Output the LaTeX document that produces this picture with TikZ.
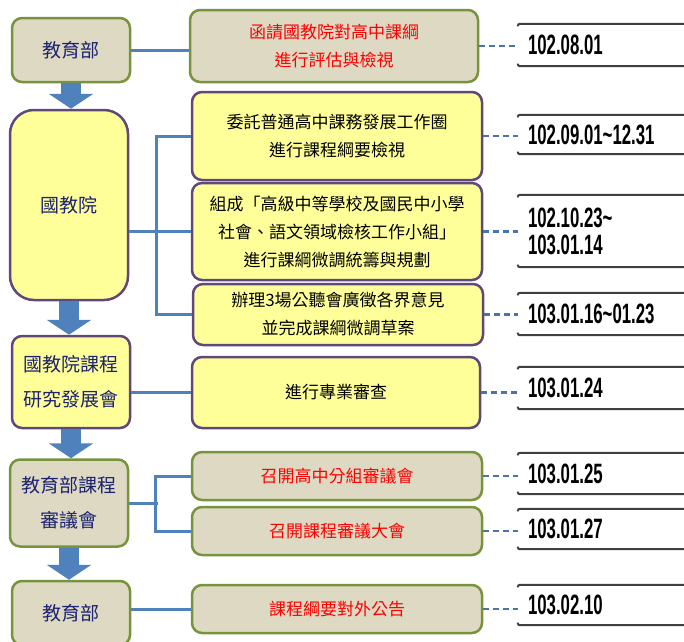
\documentclass[tikz,border=0pt]{standalone}
\usepackage{fontspec}
\newfontfamily\cjk{Noto Sans CJK TC}
\newfontfamily\datefont{Liberation Sans}[FakeStretch=0.6]
\usetikzlibrary{arrows.meta}

\definecolor{bgtan}{HTML}{DDD9C3}
\definecolor{bgyellow}{HTML}{FFFF99}
\definecolor{edgegreen}{HTML}{77933C}
\definecolor{edgepurple}{HTML}{5F497A}
\definecolor{linkblue}{HTML}{4F81BD}
\definecolor{textnavy}{HTML}{1C2270}
\definecolor{dategray}{HTML}{404040}

\tikzset{
    moebox/.style={draw=edgegreen, fill=bgtan, line width=2.5pt, rounded corners=10pt,
        text=textnavy, align=center, inner sep=0pt, font=\cjk\fontsize{19}{35}\selectfont},
    naerbox/.style={moebox, draw=edgepurple, fill=bgyellow},
    moetask/.style={draw=edgegreen, fill=bgtan, line width=2.5pt, rounded corners=10pt,
        text=red, align=center, inner sep=0pt, font=\cjk\fontsize{17}{28}\selectfont},
    naertask/.style={moetask, draw=edgepurple, fill=bgyellow, text=black},
    datebox/.style={minimum width=166pt, text width=146pt, inner xsep=10pt, inner ysep=0pt,
        align=left, font=\datefont\bfseries\fontsize{28}{27}\selectfont},
    dateline/.style={draw=dategray, line width=2pt, rounded corners=2pt},
    link/.style={draw=linkblue, line width=3pt},
    datelink/.style={draw=linkblue!90!black, line width=2.5pt, dash pattern=on 6pt off 4pt},
    blockarrow/.style={draw=linkblue, line width=20pt, -{Triangle[width=44pt,length=15pt]}}
}

\begin{document}
\begin{tikzpicture}[x=1pt,y=-1pt]
    \useasboundingbox (0,0) rectangle (684,641);

    % columna izquierda
    \node[moebox, minimum width=118pt, minimum height=64pt] (edu1) at (71,50) {教育部};
    \node[naerbox, minimum width=118pt, minimum height=190pt, rounded corners=24pt] (naer) at (69,205) {國教院};
    \node[naerbox, minimum width=118pt, minimum height=92pt] (naerdev) at (71,382) {國教院課程\\研究發展會};
    \node[moebox, minimum width=118pt, minimum height=87pt] (moecur) at (69,503) {教育部課程\\審議會};
    \node[moebox, minimum width=118pt, minimum height=64pt] (edu2) at (71,613) {教育部};

    \draw[blockarrow] (edu1.south) -- (edu1.south |- naer.north);
    \draw[blockarrow] (naer.south) -- (naer.south |- naerdev.north);
    \draw[blockarrow] (naerdev.south) -- (naerdev.south |- moecur.north);
    \draw[blockarrow] (moecur.south) -- (moecur.south |- edu2.north);

    % tareas
    \node[moetask, minimum width=288pt, minimum height=72pt] (ask) at (334,46) {函請國教院對高中課綱\\進行評估與檢視};
    \node[naertask, minimum width=290pt, minimum height=88pt] (entrust) at (337,136) {委託普通高中課務發展工作圈\\進行課程綱要檢視};
    \node[naertask, minimum width=290pt, minimum height=97pt] (group) at (337,231.5) {組成「高級中等學校及國民中小學\\社會、語文領域檢核工作小組」\\進行課綱微調統籌與規劃};
    \node[naertask, minimum width=290pt, minimum height=61pt] (hearing) at (338,314.5) {辦理3場公聽會廣徵各界意見\\並完成課綱微調草案};
    \node[naertask, minimum width=288pt, minimum height=71pt] (review) at (336,392.5) {進行專業審查};
    \node[moetask, minimum width=290pt, minimum height=48pt] (subcomm) at (337,476) {召開高中分組審議會};
    \node[moetask, minimum width=290pt, minimum height=48pt] (plenary) at (337,531) {召開課程審議大會};
    \node[moetask, minimum width=290pt, minimum height=48pt] (announce) at (337,609) {課程綱要對外公告};

    \draw[link] (edu1.east) -- (edu1.east -| ask.west);
    \draw[link] (naer.east |- group.west) -- (group.west);
    \draw[link] (entrust.west) -- ++(-34,0) |- (hearing.west);
    \draw[link] (review.west -| naerdev.east) -- (review.west);
    \draw[link] (moecur.east) -- ++(29,0);
    \draw[link] (subcomm.west) -- ++(-35,0) |- (plenary.west);
    \draw[link] (announce.west -| edu2.east) -- (announce.west);

    % fechas
    \node[datebox, minimum height=42pt] (d1) at (601,45) {102.08.01};
    \node[datebox, minimum height=39pt] (d2) at (601,134.5) {102.09.01\textasciitilde 12.31};
    \node[datebox, minimum height=72pt] (d3) at (601,231) {102.10.23\textasciitilde\\103.01.14};
    \node[datebox, minimum height=42pt] (d4) at (601,314) {103.01.16\textasciitilde 01.23};
    \node[datebox, minimum height=42pt] (d5) at (601,388) {103.01.24};
    \node[datebox, minimum height=41pt] (d6) at (601,473.5) {103.01.25};
    \node[datebox, minimum height=40pt] (d7) at (601,529) {103.01.27};
    \node[datebox, minimum height=40pt] (d8) at (601,605) {103.02.10};

    \foreach \d in {d1,d2,d3,d4,d5,d6,d7,d8} {
        \draw[dateline] ([yshift=-2.5pt]\d.north west) |- (\d.north east);
        \draw[dateline] ([yshift=2.5pt]\d.south west) |- (\d.south east);
    }

    \draw[datelink] (ask.east) -- (ask.east -| d1.west);
    \draw[datelink] (entrust.east) -- (entrust.east -| d2.west);
    \draw[datelink] (group.east) -- (group.east -| d3.west);
    \draw[datelink] (hearing.east) -- (hearing.east -| d4.west);
    \draw[datelink] (review.east) -- (review.east -| d5.west);
    \draw[datelink] (subcomm.east) -- (subcomm.east -| d6.west);
    \draw[datelink] (plenary.east) -- (plenary.east -| d7.west);
    \draw[datelink] (announce.east) -- (announce.east -| d8.west);
\end{tikzpicture}
\end{document}
